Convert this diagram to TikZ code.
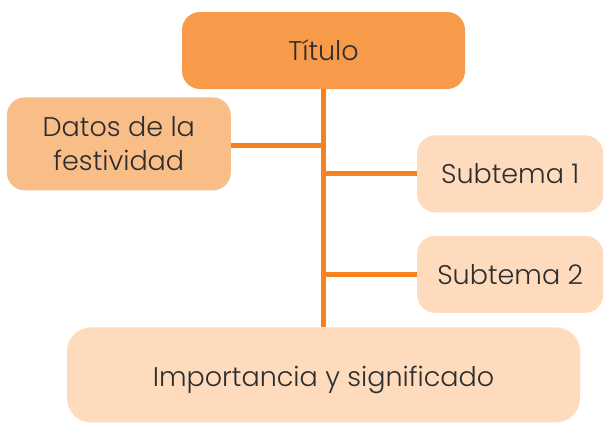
\documentclass[tikz,border=0pt]{standalone}
\usepackage{fontspec}
\setmainfont{Poppins}[UprightFont={* Light}]
\usetikzlibrary{positioning}
\definecolor{titleorange}{HTML}{F79A4A}
\definecolor{dataorange}{HTML}{F9BD88}
\definecolor{peach}{HTML}{FDDBBC}
\definecolor{lineorange}{HTML}{F5821F}
\definecolor{textgray}{HTML}{2D2D2D}

\begin{document}
\begin{tikzpicture}[
        x=1pt, y=1pt,
        box/.style={rectangle, rounded corners=18pt, align=center, text=textgray, font=\fontsize{27}{34}\selectfont},
        title/.style={box, fill=titleorange, minimum width=283pt, minimum height=77pt},
        data/.style={box, fill=dataorange, minimum width=224pt, minimum height=93pt},
        subtopic/.style={box, fill=peach, minimum width=186pt, minimum height=77pt},
        closing/.style={box, fill=peach, rounded corners=24pt, minimum width=513pt, minimum height=95pt, text height=30pt, text depth=7pt},
        link/.style={draw, lineorange, line width=5pt}
        ]

        \useasboundingbox (0,0) rectangle (604,-424);

        % Nodes
        \node (titulo) [title] at (323.5,-50.5) {Título};
        \node (datos) [data, below left=8pt and 92.5pt of titulo.south] {Datos de la\\festividad};
        \node (sub1) [subtopic, below right=46pt and 93.5pt of titulo.south] {Subtema 1};
        \node (sub2) [subtopic, below=23pt of sub1] {Subtema 2};
        \node (importancia) [closing, below=238pt of titulo] {Importancia y significado};

        % Lines
        \draw [link] ([yshift=-2pt]datos.east) -- ([yshift=-2pt]datos.east -| titulo.south);
        \draw [link] (sub1.west) -- (sub1.west -| titulo.south);
        \draw [link] (sub2.west) -- (sub2.west -| titulo.south);
        \draw [link] (titulo.south) -- (importancia.north);

    \end{tikzpicture}
\end{document}
